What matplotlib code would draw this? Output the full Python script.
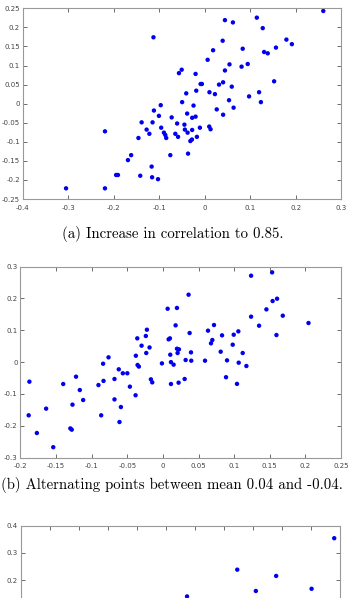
import matplotlib
matplotlib.use("Agg")
import matplotlib.pyplot as plt
from matplotlib.ticker import FuncFormatter

# (a) increase in correlation to 0.85
a_x = [-0.113, -0.305, -0.2195, -0.2195, -0.195, -0.191, -0.169, -0.162, -0.146, -0.142,
       -0.139, -0.128, -0.122, -0.117, -0.116, -0.115, -0.112, -0.103, -0.101, -0.097,
       -0.096, -0.090, -0.087, -0.085, -0.076, -0.073, -0.065, -0.061, -0.059, -0.057,
       -0.051, -0.050, -0.045, -0.044, -0.041, -0.039, -0.038, -0.037,
       0.260, 0.044, 0.0615, 0.114, 0.127, 0.039, 0.179, 0.191, 0.018, 0.083,
       0.130, 0.138, 0.156, 0.006, 0.054, 0.044, 0.0805, 0.094, 0.152, -0.0205,
       -0.0095, -0.0066, 0.031, 0.040, 0.059, -0.019, 0.010, 0.022, 0.097, 0.119,
       -0.025, 0.053, 0.123, 0.063, 0.026, 0.040, -0.028, -0.0205, -0.028, -0.011,
       0.0095, 0.0124, -0.0176, -0.032, -0.0285]
a_y = [0.174, -0.222, -0.222, -0.0726, -0.187, -0.187, -0.148, -0.135, -0.090, -0.189,
       -0.049, -0.068, -0.079, -0.165, -0.193, -0.049, -0.018, -0.198, -0.032, -0.004,
       -0.063, -0.076, -0.082, -0.090, -0.135, -0.036, -0.079, -0.052, -0.087, 0.080,
       0.089, 0.004, -0.055, -0.068, 0.027, -0.026, -0.076, -0.131,
       0.243, 0.219, 0.213, 0.2255, 0.198, 0.165, 0.168, 0.156, 0.140, 0.144,
       0.1355, 0.132, 0.147, 0.115, 0.103, 0.087, 0.097, 0.104, 0.0586, 0.078,
       0.0516, 0.0516, 0.050, 0.056, 0.0446, 0.034, 0.030, 0.025, 0.019, 0.030,
       -0.005, 0.009, 0.004, -0.0105, -0.015, -0.029, -0.037, -0.034, -0.069, -0.063,
       -0.060, -0.067, -0.087, -0.098, -0.094]

# (b) alternating points between mean 0.04 and -0.04
b_x = [-0.1875, -0.1885, -0.177, -0.164, -0.154, -0.140, -0.130, -0.128, -0.127, -0.122,
       -0.1167, -0.112, -0.0905, -0.0867, -0.084, -0.0834, -0.0764, -0.068, -0.068, -0.062,
       -0.061, -0.059, -0.0563, -0.050, -0.0464, -0.0384, -0.038, -0.036, -0.0356, -0.0338,
       -0.030, -0.024, -0.0234, -0.0225, -0.0188, -0.0169, -0.015, -0.0014, 0.0066, 0.008,
       0.0098, 0.0103, 0.0113, 0.0113, 0.015, 0.0178, 0.0197, 0.0197, 0.0206, 0.022,
       0.0225, 0.0305, 0.0319, 0.036, 0.0375, 0.0394, 0.0398,
       0.1238, 0.1533, 0.154, 0.1603, 0.1453, 0.1683, 0.1238, 0.135, 0.2044, 0.0717,
       0.0633, 0.1059, 0.0994, 0.083, 0.1594, 0.0694, 0.0675, 0.098, 0.0811, 0.112,
       0.0591, 0.090, 0.1064, 0.1172, 0.0886, 0.104]
b_y = [-0.0614, -0.167, -0.2225, -0.146, -0.267, -0.0687, -0.208, -0.212, -0.1335, -0.0457,
       -0.0876, -0.119, -0.072, -0.167, -0.005, -0.059, 0.015, -0.053, -0.117, -0.0226,
       -0.188, -0.141, -0.035, -0.035, -0.077, -0.104, 0.020, 0.0746, -0.009, -0.014,
       0.0516, 0.082, 0.0286, 0.1017, 0.046, -0.054, -0.0635, -0.004, 0.1675, 0.0715,
       0.0746, 0.0233, 0.000, -0.0687, -0.008, 0.1154, 0.170, 0.042, 0.0286, -0.0645,
       0.040, -0.053, 0.0066, 0.2116, 0.0914, 0.0306, 0.0045,
       0.2712, 0.2817, 0.1917, 0.199, 0.1655, 0.1457, 0.1426, 0.1143, 0.1227, 0.1164,
       0.0987, 0.0965, 0.086, 0.084, 0.085, 0.0694, 0.059, 0.0547, 0.0327, 0.0286,
       0.0045, 0.0055, -0.0018, -0.0122, -0.0474, -0.0683]

# (c) only the top of this panel is visible
c_x = [0.290, 0.123, 0.190, 0.251, 0.155, 0.0365]
c_y = [0.354, 0.239, 0.216, 0.169, 0.161, 0.141]

captions = ["(a) Increase in correlation to 0.85.",
            "(b) Alternating points between mean 0.04 and -0.04."]

fig = plt.figure(figsize=(3.49, 5.98), dpi=100)


def fmt(v, pos):
    s = "%g" % round(v, 4)
    return "0" if s == "-0" else s


def style(ax, xticks, yticks, xlim, ylim):
    ax.set_xlim(*xlim)
    ax.set_ylim(*ylim)
    ax.set_xticks(xticks)
    ax.set_yticks(yticks)
    ax.xaxis.set_major_formatter(FuncFormatter(fmt))
    ax.yaxis.set_major_formatter(FuncFormatter(fmt))
    ax.tick_params(direction="in", length=3, width=0.6, color="#555555",
                   top=True, right=True, labelsize=5, labelcolor="#444444")
    ax.tick_params(axis="x", pad=4)
    ax.tick_params(axis="y", pad=2)
    for sp in ax.spines.values():
        sp.set_color("#999999")
        sp.set_linewidth(0.8)


dot = dict(s=10, color="#0000ee", edgecolors="none")

ax1 = fig.add_axes([0.0653, 0.6672, 0.9132, 0.3189])
ax1.scatter(a_x, a_y, **dot)
style(ax1, [-0.4, -0.3, -0.2, -0.1, 0, 0.1, 0.2, 0.3],
      [-0.25, -0.2, -0.15, -0.1, -0.05, 0, 0.05, 0.1, 0.15, 0.2, 0.25],
      (-0.4, 0.3), (-0.25, 0.25))

ax2 = fig.add_axes([0.0587, 0.2346, 0.9183, 0.3197])
ax2.scatter(b_x, b_y, **dot)
style(ax2, [-0.2, -0.15, -0.1, -0.05, 0, 0.05, 0.1, 0.15, 0.2, 0.25],
      [-0.3, -0.2, -0.1, 0, 0.1, 0.2, 0.3],
      (-0.2, 0.25), (-0.3, 0.3))

# third panel runs off the bottom of the page; only its top part shows
ax3 = fig.add_axes([0.0593, -0.199, 0.915, 0.32])
ax3.scatter(c_x, c_y, **dot)
style(ax3, [-0.25, -0.2, -0.15, -0.1, -0.05, 0, 0.05, 0.1, 0.15, 0.2, 0.25, 0.3],
      [-0.3, -0.2, -0.1, 0, 0.1, 0.2, 0.3, 0.4],
      (-0.25, 0.3), (-0.3, 0.4))
ax3.tick_params(axis="x", labelbottom=False)
ax3.yaxis.set_major_formatter(FuncFormatter(lambda v, p: fmt(v, p) if v > 0.15 else ""))

fig.text(0.496, 1 - 234.5 / 598, captions[0], ha="center", va="center",
         fontsize=10.7, family="cmr10")
fig.text(0.494, 1 - 485 / 598, captions[1], ha="center", va="center",
         fontsize=10.7, family="cmr10")

fig.savefig("out.png", dpi=100)
